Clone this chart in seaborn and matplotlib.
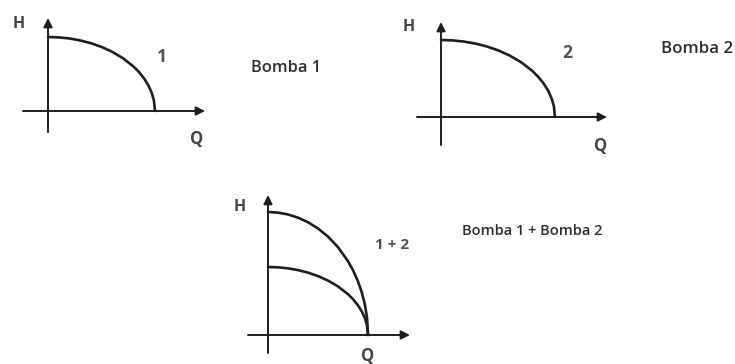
import seaborn as sns
import matplotlib
matplotlib.use("Agg")
import matplotlib.pyplot as plt

# normalised pump curve H/H0 against Q/Qmax
q_pts = [0.0, 0.1, 0.2, 0.3, 0.4, 0.5, 0.6, 0.7, 0.8, 0.85, 0.9, 0.94, 0.97, 0.99, 1.0]
h_pts = [1.0, 0.995, 0.98, 0.954, 0.917, 0.866, 0.8, 0.714, 0.6, 0.527, 0.436, 0.341, 0.243, 0.141, 0.0]
# inner curve of the combined panel, relative to the outer one
inner_ratio = 0.553

curve_labels = ["1", "2", "1 + 2"]
titles = ["Bomba 1", "Bomba 2", "Bomba 1 + Bomba 2"]

sns.set_theme(style="white")
plt.rcParams['font.family'] = ['Open Sans', 'DejaVu Sans']

W, H = 735, 364
fig = plt.figure(figsize=(W / 100, H / 100), dpi=100)
fig.patch.set_facecolor("white")

# panel boxes in pixels: left, top, right, bottom, origin, curve end x, curve top y
panels = [
    dict(box=(23, 18, 205, 132), org=(48, 111), qend=155, htop=37),
    dict(box=(417, 22, 607, 145), org=(441, 117), qend=555, htop=40),
    dict(box=(248, 195, 410, 353), org=(268, 335), qend=368, htop=212),
]

line_col = "#1e1e1e"


def fx(px):
    return px / W


def fy(py):
    return 1 - py / H


axes = []
for p in panels:
    l, t, r, b = p["box"]
    ox, oy = p["org"]
    sx = p["qend"] - ox
    sy = oy - p["htop"]
    ax = fig.add_axes([fx(l), fy(b), fx(r) - fx(l), fy(t) - fy(b)])
    ax.set_xlim((l - ox) / sx, (r - ox) / sx)
    ax.set_ylim((oy - b) / sy, (oy - t) / sy)
    ax.axis("off")
    ax.patch.set_alpha(0)
    arrow = dict(arrowstyle="-|>", color=line_col, lw=1.4, mutation_scale=13,
                 shrinkA=0, shrinkB=0)
    ax.annotate("", xy=(1, 0), xytext=(0, 0),
                xycoords=("axes fraction", "data"), arrowprops=arrow)
    ax.annotate("", xy=(0, 1), xytext=(0, 0),
                xycoords=("data", "axes fraction"), arrowprops=arrow)
    axes.append(ax)

sns.lineplot(x=q_pts, y=h_pts, ax=axes[0], color=line_col, lw=1.9,
             sort=False, estimator=None)
sns.lineplot(x=q_pts, y=h_pts, ax=axes[1], color=line_col, lw=1.9,
             sort=False, estimator=None)
sns.lineplot(x=q_pts, y=h_pts, ax=axes[2], color=line_col, lw=1.9,
             sort=False, estimator=None)
sns.lineplot(x=q_pts, y=[h * inner_ratio for h in h_pts], ax=axes[2],
             color=line_col, lw=1.9, sort=False, estimator=None)

lab_col = "#454545"
h_pos = [(19, 24), (409, 27), (240, 207)]
q_pos = [(197, 139), (601, 146), (368, 356)]
for (hx, hy), (qx, qy) in zip(h_pos, q_pos):
    fig.text(fx(hx), fy(hy), "H", fontsize=11.5, fontweight="bold", color=lab_col,
             ha="center", va="center")
    fig.text(fx(qx), fy(qy), "Q", fontsize=12, fontweight="bold", color=lab_col,
             ha="center", va="center")

num_pos = [(162, 57), (567, 53), (392, 245)]
num_size = [12.5, 12.5, 11]
for lab, (x, y), s in zip(curve_labels, num_pos, num_size):
    fig.text(fx(x), fy(y), lab, fontsize=s, fontweight="bold", color="#505050",
             ha="center", va="center")

title_pos = [(286, 68), (697, 49), (532, 231)]
title_size = [11.8, 12.2, 10.5]
for lab, (x, y), s in zip(titles, title_pos, title_size):
    fig.text(fx(x), fy(y), lab, fontsize=s, fontweight="semibold", color="#2e2e2e",
             ha="center", va="center")

fig.savefig("out.png", dpi=100, facecolor="white")
